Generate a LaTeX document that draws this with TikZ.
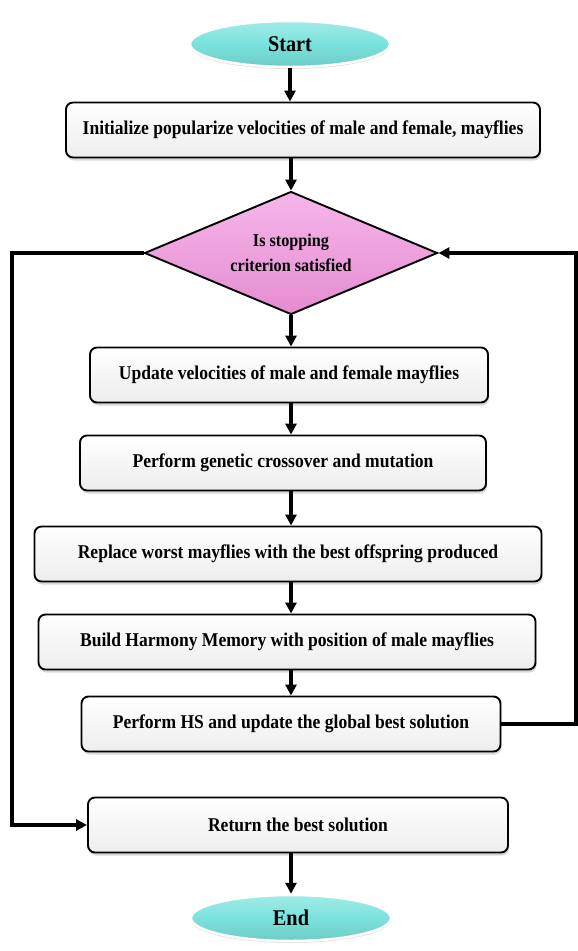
\documentclass[tikz,border=0pt]{standalone}
\usepackage{fontspec}
\setmainfont{Liberation Serif}
\newfontfamily\flowfont[FakeStretch=0.9]{Liberation Serif}
\usetikzlibrary{shapes.geometric,shadows,arrows.meta}

\definecolor{termcyan}{RGB}{122,226,221}
\definecolor{condpink}{RGB}{228,140,208}
\definecolor{condpinklt}{RGB}{246,182,234}

\tikzset{
  procbox/.style={draw, line width=1.9pt, rounded corners=7pt,
    top color=white, bottom color=gray!14,
    drop shadow={shadow xshift=1pt, shadow yshift=-3pt, opacity=0.3},
    minimum height=55pt, font=\flowfont\fontsize{19.5}{22}\selectfont\bfseries},
  termnode/.style={ellipse, draw=white, line width=2.5pt,
    top color=termcyan!70, bottom color=termcyan!90!black, middle color=termcyan,
    drop shadow={shadow xshift=0pt, shadow yshift=-2pt, opacity=0.25},
    minimum width=200pt, minimum height=46pt, font=\flowfont\fontsize{22.5}{24}\selectfont\bfseries},
  decnode/.style={diamond, aspect=2.4, draw, line width=1.9pt,
    top color=condpinklt, bottom color=condpink,
    minimum width=293pt, minimum height=123pt, inner sep=0pt,
    align=center, font=\flowfont\fontsize{18}{25}\selectfont\bfseries},
  flow/.style={line width=3.2pt, -{Triangle[width=11pt,length=11pt]}}
}

\begin{document}
\begin{tikzpicture}[x=1pt,y=-1pt]
    \useasboundingbox (0,0) rectangle (578,951);

    % Start and End
    \node[termnode] (start) at (290,44) {Start};
    \node[termnode] (stop) at (291,918) {End};

    % Steps of the flow
    \node[procbox, minimum width=474pt] (init) at (303,130) {Initialize popularize velocities of male and female, mayflies};
    \node[decnode] (cond) at (291,253) {Is stopping\\criterion satisfied};
    \node[procbox, minimum width=398pt] (upd) at (289,375) {Update velocities of male and female mayflies};
    \node[procbox, minimum width=406pt] (cross) at (283,463) {Perform genetic crossover and mutation};
    \node[procbox, minimum width=507pt] (repl) at (288,554) {Replace worst mayflies with the best offspring produced};
    \node[procbox, minimum width=497pt] (build) at (287,642) {Build Harmony Memory with position of male mayflies};
    \node[procbox, minimum width=419pt] (hs) at (291,724) {Perform HS and update the global best solution};
    \node[procbox, minimum width=420pt] (ret) at (298,825) {Return the best solution};

    % Turning points of the two loops
    \coordinate (loopR) at (576,724);
    \coordinate (loopL) at (12,253);

    % Main column
    \draw[flow] (start.south) -- (start.south |- init.north);
    \draw[flow] (init.south -| cond) -- (cond.north);
    \draw[flow] (cond.south) -- (cond.south |- upd.north);
    \draw[flow] (upd.south -| cond) -- (cross.north -| cond);
    \draw[flow] (cross.south -| cond) -- (repl.north -| cond);
    \draw[flow] (repl.south -| cond) -- (build.north -| cond);
    \draw[flow] (build.south -| cond) -- (hs.north -| cond);
    \draw[flow] (ret.south -| stop) -- (stop.north);

    % Loops
    \draw[flow] (hs.east) -- (loopR) |- (cond.east);
    \draw[flow] (cond.west) -- (loopL) |- (ret.west);
\end{tikzpicture}
\end{document}
